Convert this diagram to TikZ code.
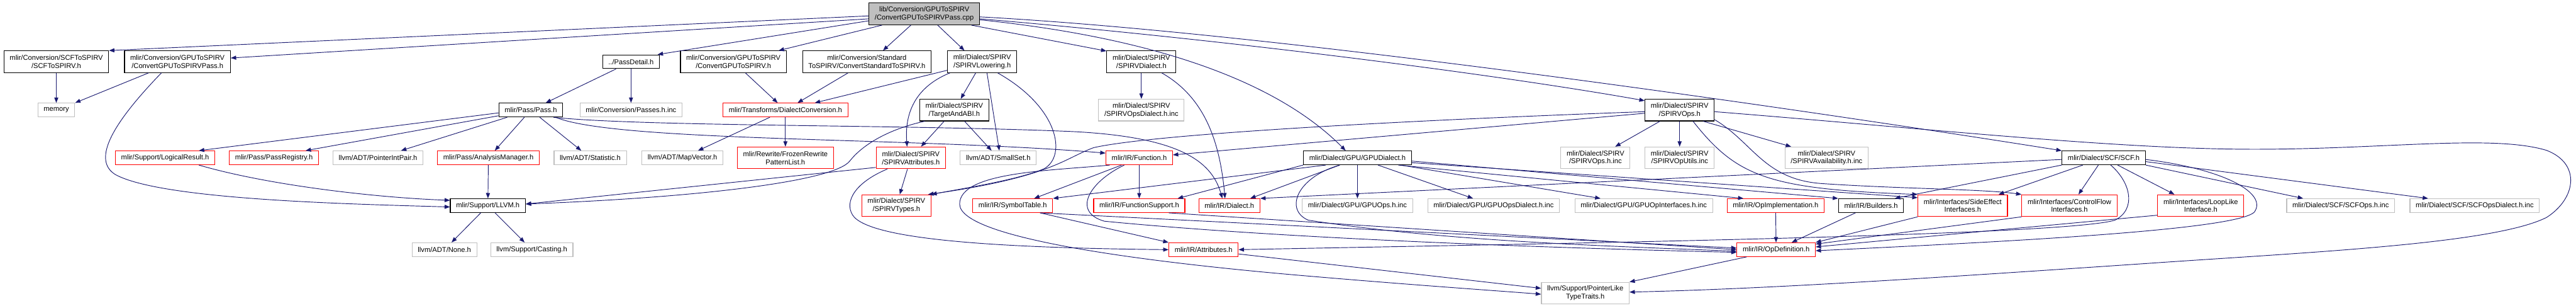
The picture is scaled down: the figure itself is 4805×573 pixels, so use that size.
\documentclass[tikz,border=0pt]{standalone}
\usepackage{fontspec}
\setmainfont{Liberation Sans}
\usetikzlibrary{arrows.meta}
\definecolor{edgeblue}{HTML}{191970}
\definecolor{rootgray}{HTML}{BFBFBF}
\definecolor{extgray}{HTML}{BFBFBF}
\definecolor{truncred}{HTML}{FF0000}

\begin{document}
\begin{tikzpicture}[x=1pt, y=-1pt,
  filebox/.style={draw, line width=1.3pt, fill=white, font=\fontsize{13.1}{15}\selectfont, align=center, inner xsep=10.8pt, inner ysep=2pt, minimum height=25.6pt},
  two/.style={minimum height=40.4pt},
  rootbox/.style={filebox, draw=black, fill=rootgray},
  docbox/.style={filebox, draw=black},
  redbox/.style={filebox, draw=truncred},
  extbox/.style={filebox, draw=extgray},
  dep/.style={draw=edgeblue, line width=1.1pt, -{Triangle[length=10pt, width=7.5pt]}}
]
\useasboundingbox (0,0) rectangle (4805,573);

\node[rootbox, two] (root) at (1724, 26) {lib/Conversion/GPUToSPIRV\\/ConvertGPUToSPIRVPass.cpp};

\node[docbox, two] (scfspirv) at (105, 115) {mlir/Conversion/SCFToSPIRV\\/SCFToSPIRV.h};
\node[docbox, two] (gpupass) at (331, 115) {mlir/Conversion/GPUToSPIRV\\/ConvertGPUToSPIRVPass.h};
\node[docbox] (passdetail) at (1177, 115) {../PassDetail.h};
\node[docbox, two] (gpuspirv) at (1368, 115) {mlir/Conversion/GPUToSPIRV\\/ConvertGPUToSPIRV.h};
\node[docbox, two] (stdspirv) at (1617, 115) {mlir/Conversion/Standard\\ToSPIRV/ConvertStandardToSPIRV.h};
\node[docbox, two] (lowering) at (1832, 115) {mlir/Dialect/SPIRV\\/SPIRVLowering.h};
\node[docbox, two] (spvdialect) at (2129, 115) {mlir/Dialect/SPIRV\\/SPIRVDialect.h};

\node[extbox] (memory) at (105, 205) {memory};
\node[docbox] (pass) at (990, 205) {mlir/Pass/Pass.h};
\node[extbox] (passesinc) at (1177, 205) {mlir/Conversion/Passes.h.inc};
\node[redbox] (dconv) at (1465, 205) {mlir/Transforms/DialectConversion.h};
\node[docbox, two] (target) at (1780, 205) {mlir/Dialect/SPIRV\\/TargetAndABI.h};
\node[extbox, two] (spvopsdialinc) at (2129, 205) {mlir/Dialect/SPIRV\\/SPIRVOpsDialect.h.inc};
\node[docbox, two] (spvops) at (3133, 205) {mlir/Dialect/SPIRV\\/SPIRVOps.h};

\node[redbox] (logres) at (308, 294) {mlir/Support/LogicalResult.h};
\node[redbox] (passreg) at (511, 294) {mlir/Pass/PassRegistry.h};
\node[extbox] (ptrint) at (705, 294) {llvm/ADT/PointerIntPair.h};
\node[redbox] (analysis) at (911, 294) {mlir/Pass/AnalysisManager.h};
\node[extbox] (statistic) at (1101, 294) {llvm/ADT/Statistic.h};
\node[extbox] (mapvec) at (1273, 294) {llvm/ADT/MapVector.h};
\node[redbox, two] (frozen) at (1465, 294) {mlir/Rewrite/FrozenRewrite\\PatternList.h};
\node[redbox, two] (spvattr) at (1699, 294) {mlir/Dialect/SPIRV\\/SPIRVAttributes.h};
\node[extbox] (smallset) at (1862, 294) {llvm/ADT/SmallSet.h};
\node[redbox] (function) at (2125, 294) {mlir/IR/Function.h};
\node[docbox] (gpudialect) at (2532, 294) {mlir/Dialect/GPU/GPUDialect.h};
\node[extbox, two] (spvopsinc) at (2976, 294) {mlir/Dialect/SPIRV\\/SPIRVOps.h.inc};
\node[extbox, two] (spvutils) at (3133, 294) {mlir/Dialect/SPIRV\\/SPIRVOpUtils.inc};
\node[extbox, two] (spvavail) at (3407, 294) {mlir/Dialect/SPIRV\\/SPIRVAvailability.h.inc};
\node[docbox] (scf) at (3924, 294) {mlir/Dialect/SCF/SCF.h};

\node[docbox] (llvmh) at (910, 383) {mlir/Support/LLVM.h};
\node[redbox, two] (spvtypes) at (1672, 383) {mlir/Dialect/SPIRV\\/SPIRVTypes.h};
\node[redbox] (symtab) at (1889, 383) {mlir/IR/SymbolTable.h};
\node[redbox] (funcsupp) at (2125, 383) {mlir/IR/FunctionSupport.h};
\node[redbox] (irdialect) at (2293, 383) {mlir/IR/Dialect.h};
\node[extbox] (gpuopsinc) at (2532, 383) {mlir/Dialect/GPU/GPUOps.h.inc};
\node[extbox] (gpudialinc) at (2786, 383) {mlir/Dialect/GPU/GPUOpsDialect.h.inc};
\node[extbox] (gpuifinc) at (3066, 383) {mlir/Dialect/GPU/GPUOpInterfaces.h.inc};
\node[redbox] (opimpl) at (3312, 383) {mlir/IR/OpImplementation.h};
\node[docbox] (builders) at (3490, 383) {mlir/IR/Builders.h};
\node[redbox, two] (sideeff) at (3661, 383) {mlir/Interfaces/SideEffect\\Interfaces.h};
\node[redbox, two] (ctrlflow) at (3860, 383) {mlir/Interfaces/ControlFlow\\Interfaces.h};
\node[redbox, two] (looplike) at (4105, 383) {mlir/Interfaces/LoopLike\\Interface.h};
\node[extbox] (scfopsinc) at (4366, 383) {mlir/Dialect/SCF/SCFOps.h.inc};
\node[extbox] (scfdialinc) at (4616, 383) {mlir/Dialect/SCF/SCFOpsDialect.h.inc};

\node[extbox] (none) at (829, 465) {llvm/ADT/None.h};
\node[extbox] (casting) at (992, 465) {llvm/Support/Casting.h};
\node[redbox] (attrs) at (2245, 465) {mlir/IR/Attributes.h};
\node[redbox] (opdef) at (3313, 465) {mlir/IR/OpDefinition.h};

\node[extbox, two] (ptrlike) at (2957, 546) {llvm/Support/PointerLike\\TypeTraits.h};

\draw[dep] (root.182) -- (scfspirv.north east);
\draw[dep] (root.185) -- (gpupass.4);
\draw[dep] (root.187) -- ([xshift=-4pt]passdetail.north east);
\draw[dep] ([xshift=25pt]root.south west) -- ([xshift=-15pt]gpuspirv.north east);
\draw[dep] ([xshift=-25pt]root.south) -- ([xshift=30pt]stdspirv.north);
\draw[dep] ([xshift=25pt]root.south) -- ([xshift=-33pt]lowering.north);
\draw[dep] ([xshift=-16pt]root.south east) -- (spvdialect.163);
\draw[dep] (root.357) .. controls (2400,62) and (3400,210) .. (scf.north west);
\draw[dep] (root.355) .. controls (2300,75) and (2800,140) .. (spvops.165);
\draw[dep] (root.354) .. controls (2150,70) and (2380,150) .. ([xshift=-22pt]gpudialect.north);

\draw[dep] (scfspirv) -- (memory);
\draw[dep] ([xshift=-54pt]gpupass.south) -- (memory.north east);
\draw[dep] ([xshift=-30pt]gpupass.south) .. controls (200,240) and (175,300) .. (215,325) .. controls (300,372) and (650,380) .. (llvmh.182);
\draw[dep] (passdetail) -- (pass);
\draw[dep] (passdetail) -- (passesinc);
\draw[dep] (gpuspirv) -- (dconv);
\draw[dep] (stdspirv) -- (dconv);
\draw[dep] (lowering) -- (dconv);
\draw[dep] (lowering) -- (target);
\draw[dep] ([xshift=5pt]lowering.south west) .. controls (1700,165) and (1688,220) .. ([xshift=-7pt]spvattr.north);
\draw[dep] ([xshift=9pt]lowering.south) -- ([xshift=2pt]smallset.north);
\draw[dep] ([xshift=29pt]lowering.south) .. controls (1975,200) and (1990,290) .. (1948,314) .. controls (1900,335) and (1790,352) .. (spvtypes.north east);
\draw[dep] (spvdialect) -- (spvopsdialinc);
\draw[dep] ([xshift=38pt]spvdialect.south) .. controls (2245,180) and (2275,260) .. ([xshift=-8pt]irdialect.north);

\draw[dep] (pass.185) -- ([xshift=63pt]logres.north);
\draw[dep] (pass.190) -- ([xshift=59pt]passreg.north);
\draw[dep] ([xshift=-44pt]pass.south) -- ([xshift=43pt]ptrint.north);
\draw[dep] (pass) -- (analysis);
\draw[dep] (pass) -- (statistic);
\draw[dep] ([xshift=-18pt]pass.south east) .. controls (1200,236) and (1700,232) .. (2000,245) .. controls (2200,255) and (2260,300) .. ([xshift=-13pt]irdialect.north);
\draw[dep] ([xshift=-14pt]pass.south east) .. controls (1150,265) and (1700,255) .. (function.172);
\draw[dep] (analysis) -- (llvmh);
\draw[dep] ([xshift=63pt]logres.south) .. controls (500,345) and (700,368) .. (llvmh.172);
\draw[dep] (llvmh) -- (none);
\draw[dep] (llvmh) -- (casting);
\draw[dep] (dconv) -- (mapvec);
\draw[dep] (dconv) -- (frozen);

\draw[dep] (target) -- (spvattr);
\draw[dep] (target) -- (smallset);
\draw[dep] ([xshift=10pt]target.south west) .. controls (1660,240) and (1610,268) .. (1585,300) .. controls (1555,338) and (1300,368) .. ([yshift=3pt]llvmh.east);
\draw[dep] ([yshift=3pt]spvattr.south west) -- ([yshift=3pt]llvmh.east);
\draw[dep] (spvattr) -- (spvtypes);
\draw[dep] ([xshift=-44pt]spvattr.south) .. controls (1595,340) and (1575,375) .. (1590,400) .. controls (1620,450) and (1900,462) .. (attrs.west);

\draw[dep] ([yshift=-3pt]spvops.west) .. controls (2600,225) and (2150,250) .. (2040,275) .. controls (1985,295) and (1960,330) .. ([xshift=-6pt]spvtypes.north east);
\draw[dep] ([yshift=-6pt]spvops.west) -- (function.5);
\draw[dep] (spvops) -- (spvopsinc);
\draw[dep] (spvops) -- (spvutils);
\draw[dep] ([xshift=44pt]spvops.south) -- ([xshift=-66pt]spvavail.north);
\draw[dep] ([xshift=25pt]spvops.south) .. controls (3240,330) and (3300,352) .. (sideeff.north west);
\draw[dep] ([yshift=3pt]spvops.south east) .. controls (3270,265) and (3290,335) .. (3400,342) .. controls (3550,352) and (3700,352) .. (ctrlflow.north west);
\draw[dep] ([yshift=-3pt]spvops.east) .. controls (3600,240) and (3950,278) .. (4205,278) .. controls (4450,278) and (4650,250) .. (4750,280) .. controls (4815,305) and (4805,370) .. (4750,405) .. controls (4650,455) and (4300,470) .. (4000,491) .. controls (3600,518) and (3300,538) .. ([yshift=2pt]ptrlike.east);

\draw[dep] (gpudialect) -- (gpuopsinc);
\draw[dep] (gpudialect) -- (gpudialinc);
\draw[dep] (gpudialect) -- (gpuifinc);
\draw[dep] ([yshift=-6pt]gpudialect.east) -- (builders.north west);
\draw[dep] ([yshift=-9pt]gpudialect.east) -- (sideeff.170);
\draw[dep] ([xshift=-25pt]gpudialect.south east) -- ([xshift=-60pt]opimpl.north);
\draw[dep] ([xshift=-59pt]gpudialect.south) -- (symtab.north east);
\draw[dep] (gpudialect.south west) -- ([xshift=-14pt]funcsupp.north east);
\draw[dep] ([xshift=-33pt]gpudialect.south) -- ([xshift=39pt]irdialect.north);
\draw[dep] ([xshift=-33pt]gpudialect.south) .. controls (2420,330) and (2395,390) .. (2440,410) .. controls (2700,450) and (3000,458) .. ([yshift=-3pt]opdef.west);

\draw[dep] ([xshift=-33pt]function.south) -- ([xshift=40pt]symtab.north);
\draw[dep] (function) -- (funcsupp);
\draw[dep] ([xshift=-28pt]function.south) .. controls (2030,340) and (2000,395) .. (2060,412) .. controls (2400,445) and (2900,462) .. ([yshift=-5pt]opdef.west);
\draw[dep] ([xshift=-55pt]function.south) .. controls (1960,318) and (1790,320) .. (1790,380) .. controls (1790,445) and (2150,490) .. (2450,515) .. controls (2650,532) and (2800,542) .. ([yshift=-2pt]ptrlike.west);

\draw[dep] ([xshift=51pt]symtab.south) -- (attrs.north west);
\draw[dep] ([xshift=51pt]symtab.south) -- ([yshift=3pt]opdef.west);
\draw[dep] ([xshift=55pt]funcsupp.south) -- (opdef.west);
\draw[dep] ([yshift=-8pt]attrs.east) -- ([yshift=9pt]ptrlike.west);
\draw[dep] ([xshift=-55pt]opdef.south) -- (ptrlike.north east);

\draw[dep] (opimpl) -- (opdef);
\draw[dep] (builders) -- (opdef);
\draw[dep] (sideeff.south west) -- (opdef.north east);
\draw[dep] (ctrlflow.south west) -- (opdef.8);
\draw[dep] ([yshift=3pt]looplike.south west) -- (opdef.4);

\draw[dep] ([yshift=-3pt]scf.west) -- (irdialect.north east);
\draw[dep] (scf.south west) -- ([xshift=-17pt]builders.north east);
\draw[dep] ([xshift=-39pt]scf.south) -- ([xshift=67pt]sideeff.north);
\draw[dep] ([xshift=-10pt]scf.south) -- ([xshift=17pt]ctrlflow.north);
\draw[dep] ([xshift=26pt]scf.south) -- ([xshift=-49pt]looplike.north);
\draw[dep] ([xshift=13pt]scf.south) .. controls (3975,340) and (3985,390) .. (3945,410) .. controls (3850,440) and (2800,455) .. (attrs.east);
\draw[dep] (scf.south east) -- ([xshift=-70pt]scfopsinc.north);
\draw[dep] ([yshift=-7pt]scf.east) -- ([xshift=-87pt]scfdialinc.north);
\draw[dep] ([yshift=-3pt]scf.east) .. controls (4150,315) and (4230,360) .. (4205,395) .. controls (4170,430) and (3700,452) .. ([yshift=-2pt]opdef.east);

\end{tikzpicture}
\end{document}
